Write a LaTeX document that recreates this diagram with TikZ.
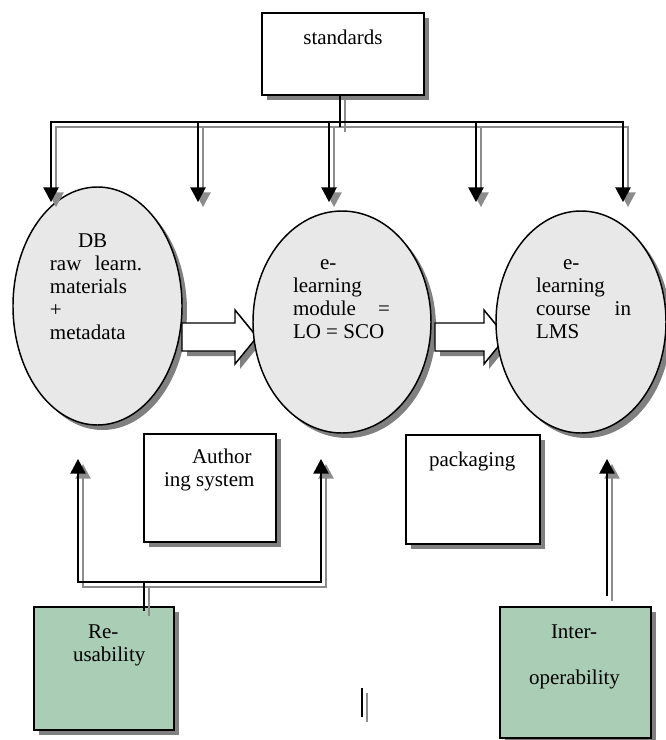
\documentclass[tikz,border=0pt]{standalone}
\usepackage{fontspec}
\setmainfont{Liberation Serif}
\usetikzlibrary{arrows.meta,shapes.geometric,shadows}
\definecolor{shadowc}{RGB}{128,128,128}
\definecolor{linegray}{RGB}{140,140,140}
\definecolor{ellfill}{RGB}{232,232,232}
\definecolor{greenfill}{RGB}{170,205,181}
\newcommand{\dualpath}[2][]{\draw[connshadow,#1] #2; \draw[conn,#1] #2;}
\begin{document}
\begin{tikzpicture}[x=0.75pt,y=-0.75pt,
  every node/.style={inner sep=0pt, outer sep=0pt, font=\fontsize{15.75}{17}\selectfont},
  lbl/.style={anchor=base west},
  clbl/.style={anchor=base},
  boxshape/.style={draw=black, line width=1.1pt, rectangle,
    general shadow={fill=shadowc, shadow xshift=3.75pt, shadow yshift=-3.75pt}},
  whitebox/.style={boxshape, fill=white},
  greenbox/.style={boxshape, fill=greenfill},
  oval/.style={draw=black, line width=1.1pt, ellipse, fill=ellfill},
  conn/.style={draw=black, line width=1.1pt, line join=miter},
  connshadow/.style={draw=linegray, line width=1.1pt, line join=miter,
    transform canvas={shift={(3.75pt,-3.75pt)}}},
  tip/.style={-{Triangle[length=11pt,width=11.5pt]}},
  tips/.style={{Triangle[length=11pt,width=11.5pt]}-{Triangle[length=11pt,width=11.5pt]}},
  blockarrow/.style={draw=black, line width=1.1pt, fill=white, line join=miter},
  blockshadow/.style={fill=shadowc, transform canvas={shift={(3.75pt,-3.75pt)}}}
]
\useasboundingbox (0,0) rectangle (666,740);

% ---- boxes ----
\node[whitebox, minimum width=121.5pt, minimum height=61.5pt] (std) at (343,54) {};
\node[whitebox, minimum width=99pt, minimum height=81pt] (auth) at (210,488) {};
\node[whitebox, minimum width=100.5pt, minimum height=81.75pt] (pack) at (473,489.5) {};
\node[greenbox, minimum width=105pt, minimum height=92.25pt] (reus) at (104,668.5) {};
\node[greenbox, minimum width=113.25pt, minimum height=98.25pt] (inter) at (575.5,672.5) {};

% ---- ellipse shadows ----
\fill[shadowc] (102.5,311) ellipse [x radius=63.375pt, y radius=89.25pt];
\fill[shadowc] (347,327) ellipse [x radius=66.75pt, y radius=83.25pt];
\fill[shadowc] (586,327) ellipse [x radius=63.75pt, y radius=83.25pt];

% ---- block arrows ----
\fill[blockshadow] (182,323) -- (235,323) -- (235,310) -- (257,337) -- (235,364) -- (235,351) -- (182,351) -- cycle;
\draw[blockarrow] (182,323) -- (235,323) -- (235,310) -- (257,337) -- (235,364) -- (235,351) -- (182,351) -- cycle;
\fill[blockshadow] (435,323) -- (484,323) -- (484,310) -- (506,337) -- (484,364) -- (484,351) -- (435,351) -- cycle;
\draw[blockarrow] (435,323) -- (484,323) -- (484,310) -- (506,337) -- (484,364) -- (484,351) -- (435,351) -- cycle;

% ---- ellipses ----
\node[oval, minimum width=126.75pt, minimum height=178.5pt] (e1) at (97.5,306) {};
\node[oval, minimum width=133.5pt, minimum height=166.5pt] (e2) at (342,322) {};
\node[oval, minimum width=127.5pt, minimum height=166.5pt] (e3) at (581,322) {};

% ---- texts ----
\node[clbl] (stdT) at (343,44) {standards};
\node[lbl] (e1a) at (78,247.5) {DB};
\node[lbl] (e1b) at (50,270.5) {\makebox[69pt][l]{raw\hfill learn.}};
\node[lbl] (e1c) at (50,293.5) {materials};
\node[lbl] (e1d) at (50,316.5) {+};
\node[lbl] (e1e) at (50,339.5) {metadata};
\node[lbl] (e2a) at (320,269) {e-};
\node[lbl] (e2b) at (293,292) {learning};
\node[lbl] (e2c) at (293,315) {\makebox[72.75pt][l]{module\hfill =}};
\node[lbl] (e2d) at (293,338) {LO = SCO};
\node[lbl] (e3a) at (563,269) {e-};
\node[lbl] (e3b) at (536,292) {learning};
\node[lbl] (e3c) at (536,315) {\makebox[71.25pt][l]{course\hfill in}};
\node[lbl] (e3d) at (536,338) {LMS};
\node[lbl] (authA) at (192,463) {Author};
\node[lbl] (authB) at (164,486) {ing system};
\node[lbl] (packT) at (429,466) {packaging};
\node[lbl] (reusA) at (88,638) {Re-};
\node[lbl] (reusB) at (73,661) {usability};
\node[lbl] (interA) at (551,638) {Inter-};
\node[lbl] (interB) at (529,684) {operability};

% ---- connector coordinates ----
\coordinate (b1) at (51,122);
\coordinate (b2) at (198,122);
\coordinate (b3) at (329,122);
\coordinate (b4) at (476,122);
\coordinate (b5) at (623,122);
\coordinate (d1) at (51,202);
\coordinate (d2) at (198,202);
\coordinate (d3) at (329,202);
\coordinate (d4) at (476,202);
\coordinate (d5) at (623,202);
\coordinate (sj) at (340,127);
\coordinate (ul) at (78,459);
\coordinate (jl) at (78,582);
\coordinate (jr) at (321,582);
\coordinate (ur) at (321,459);
\coordinate (rj) at (144,582);
\coordinate (rs) at (144,611);
\coordinate (ib) at (607,596);
\coordinate (it) at (607,459);
\coordinate (m1) at (362,688);
\coordinate (m2) at (362,717);

% ---- connector shadows ----
\draw[connshadow, tips] (d1) -- (b1) -- (b5) -- (d5);
\draw[connshadow, tip] (b2) -- (d2);
\draw[connshadow, tip] (b3) -- (d3);
\draw[connshadow, tip] (b4) -- (d4);
\draw[connshadow] (std.south -| sj) -- (sj);
\draw[connshadow, tips] (ul) -- (jl) -- (jr) -- (ur);
\draw[connshadow] (rs) -- (rj);
\draw[connshadow, tip] (ib) -- (it);
\draw[connshadow] (m1) -- (m2);

% ---- connectors ----
\draw[conn, tips] (d1) -- (b1) -- (b5) -- (d5);
\draw[conn, tip] (b2) -- (d2);
\draw[conn, tip] (b3) -- (d3);
\draw[conn, tip] (b4) -- (d4);
\draw[conn] (std.south -| sj) -- (sj);
\draw[conn, tips] (ul) -- (jl) -- (jr) -- (ur);
\draw[conn] (rs) -- (rj);
\draw[conn, tip] (ib) -- (it);
\draw[conn] (m1) -- (m2);
\end{tikzpicture}
\end{document}
